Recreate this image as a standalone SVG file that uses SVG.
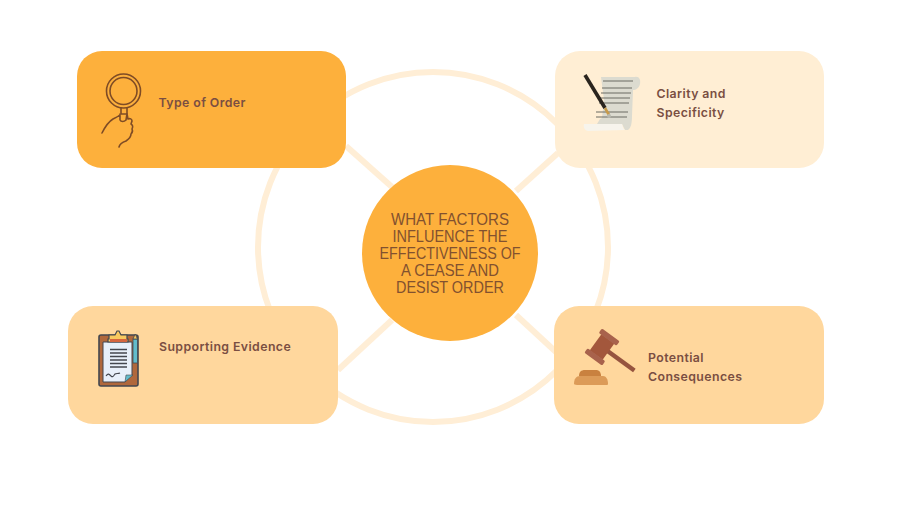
<svg xmlns="http://www.w3.org/2000/svg" width="900" height="506" viewBox="0 0 900 506">
<style>
.lbl{font-family:"Inter","Liberation Sans",sans-serif;font-size:12.3px;font-weight:600;fill:#7a4e42;letter-spacing:.42px}
.ctr{font-family:"Liberation Sans",sans-serif;font-size:16.4px;fill:#82512f;text-anchor:middle}
.box{stroke:none}
.link{fill:none;stroke:#ffeed6;stroke-width:6}
.ink{fill:none;stroke:#7f4c25;stroke-width:1.6;stroke-linecap:round;stroke-linejoin:round}
</style>
<rect width="900" height="506" fill="#fff"/>
<g id="connectors">
<circle class="link" cx="433" cy="247" r="175"/>
<line class="link" x1="346" y1="146" x2="392" y2="187"/>
<line class="link" x1="516" y1="191" x2="558" y2="153"/>
<line class="link" x1="338" y1="370" x2="392" y2="320"/>
<line class="link" x1="516" y1="315" x2="556" y2="352"/>
</g>
<g id="node-type">
<rect class="box" x="77" y="51" width="269" height="117" rx="25" fill="#fdb03c"/>
<g class="ink">
<circle cx="123.500" cy="91" r="17"/><circle cx="123.500" cy="91" r="13.500"/>
<path d="M121 108v6M127 108v6M121 114h6"/>
<path d="M102 133c3-6 6-11 11-14 3-1.500 6-3 7-4M120 120v-6M127 114l1 5c2-1 4 0 4 2l-1 3c2 1 2 3 1 5 1 2 0 4-1 5 0 3-2 5-5 7-3 1-6 2-7 6M127 114l-1 6c-2 2-5 2-6 0"/>
</g>
<text class="lbl" x="158.500" y="107">Type of Order</text>
</g>
<g id="node-clarity">
<rect class="box" x="555" y="51" width="269" height="117" rx="25" fill="#ffeed4"/>
<path d="M601 77l34 0c4-1 6 3 5 7-1 4-4 6-7 6l-1 26c0 7-1 12-4 14l-3 0-3-6-25 0 3-5 2-1 2-18z" fill="#dcdbd0"/>
<path d="M584 124h38c1 3 1 5 3 6l-37 1c-3 0-5-4-4-7z" fill="#f7f4ec"/>
<path d="M603 81l30 0M602 88l30 0M601 93l30 0M600 98l30 0M599 103l30 0M596 112l32 0M596 117l31 0" stroke="#6b6a62" stroke-width="1" fill="none"/>
<line x1="585" y1="75" x2="605" y2="108" stroke="#2a241e" stroke-width="3.600"/>
<line x1="605" y1="108" x2="609" y2="115" stroke="#c79a4a" stroke-width="2.600"/>
<circle cx="609" cy="116" r="2" fill="#b8b8ae"/>
<text class="lbl" x="656.500" y="98">Clarity and</text>
<text class="lbl" x="656.500" y="117">Specificity</text>
</g>
<g id="node-evidence">
<rect class="box" x="68" y="306" width="270" height="118" rx="25" fill="#ffd79d"/>
<rect x="99" y="335" width="39" height="51" rx="2" fill="#b0683c" stroke="#44474f" stroke-width="1.600"/>
<path d="M103 342h29v33l-7 7h-22z" fill="#e8f0fa" stroke="#44474f" stroke-width="1"/>
<path d="M125 382l1-7 7 0z" fill="#63bccb" stroke="#44474f" stroke-width=".6"/>
<path d="M108 342h20v-3h-1v-4h-6l-2-4h-2l-2 4h-6v4h-1z" fill="#f8c95f" stroke="#44474f" stroke-width="1.200"/>
<path d="M110 339h17v3h-17z" fill="#d5663f"/>
<path d="M110 349.500h17M110 353h17M110 356.500h17M110 360h17M110 363.500h17M110 367h17" stroke="#44474f" stroke-width="1.300" fill="none"/>
<path d="M106 376c2-3 3-2 5 0 2 2 3-1 4-2 1-1 3 0 5-1" stroke="#44474f" stroke-width="1.100" fill="none"/>
<rect x="133" y="339" width="4.500" height="24" fill="#63bccb" stroke="#44474f" stroke-width=".8"/>
<path d="M133 339l2.200-5 2.300 5z" fill="#f8c95f" stroke="#44474f" stroke-width=".8"/>
<text class="lbl" x="159" y="351">Supporting Evidence</text>
</g>
<g id="node-consequences">
<rect class="box" x="554" y="306" width="270" height="118" rx="25" fill="#ffd79d"/>
<path d="M579 376c0-4 2-6 6-6h11c3 0 5 2 5 6z" fill="#c9813f"/>
<path d="M574 384c0-5 2-8 6-8h23c3 0 5 3 5 8 0 1-1 1-3 1h-28c-2 0-3-1-3-1z" fill="#dc9b58"/>
<g transform="translate(602 347) rotate(36)">
<rect x="6" y="-2.200" width="34" height="4.400" fill="#96543f"/>
<rect x="-8" y="-10" width="16" height="20" fill="#a3573c"/>
<rect x="-11" y="-15" width="22" height="5.500" rx="1.500" fill="#a8624c"/>
<rect x="-11" y="9.500" width="22" height="5.500" rx="1.500" fill="#a8624c"/>
</g>
<text class="lbl" x="648" y="362">Potential</text>
<text class="lbl" x="648" y="381">Consequences</text>
</g>
<g id="node-center">
<circle cx="450" cy="253" r="88" fill="#fdb03c"/>
<text class="ctr" x="450" y="225" textLength="118" lengthAdjust="spacingAndGlyphs">WHAT FACTORS</text>
<text class="ctr" x="450" y="242" textLength="115" lengthAdjust="spacingAndGlyphs">INFLUENCE THE</text>
<text class="ctr" x="450" y="259" textLength="141" lengthAdjust="spacingAndGlyphs">EFFECTIVENESS OF</text>
<text class="ctr" x="450" y="276" textLength="98" lengthAdjust="spacingAndGlyphs">A CEASE AND</text>
<text class="ctr" x="450" y="293" textLength="108" lengthAdjust="spacingAndGlyphs">DESIST ORDER</text>
</g>
</svg>
